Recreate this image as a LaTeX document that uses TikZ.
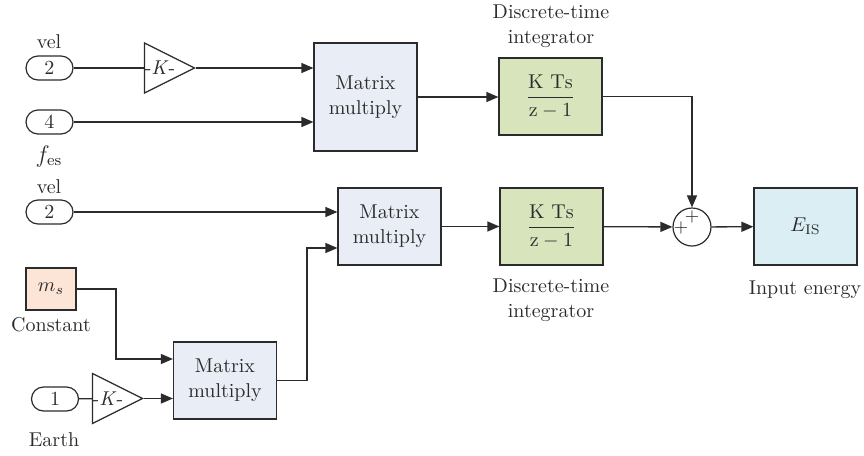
\documentclass[tikz,border=0pt]{standalone}
\usetikzlibrary{arrows.meta,positioning,shapes.geometric}
\definecolor{mmfill}{HTML}{E9EDF5}
\definecolor{dtifill}{HTML}{D8E4BC}
\definecolor{outfill}{HTML}{DBEEF4}
\definecolor{constfill}{HTML}{FCE4D6}
\definecolor{ink}{HTML}{2B2B2B}

\begin{document}
\begin{tikzpicture}[x=0.5pt, y=-0.5pt, font=\fontsize{10}{12.5}\selectfont,
  every node/.style={text=ink},
  wire/.style={draw=ink, line width=0.65pt, >={Triangle[length=6pt, width=5pt]}},
  port/.style={draw=ink, line width=0.6pt, rounded corners=6pt, minimum width=23.5pt, minimum height=12pt, inner sep=0pt},
  gain/.style={draw=ink, line width=0.6pt, isosceles triangle, isosceles triangle stretches, minimum width=25pt, minimum height=25pt, inner sep=0pt,
    label={[inner sep=0pt]center:-\textit{K}-}},
  mm/.style={draw=ink, line width=0.6pt, fill=mmfill, minimum width=51.5pt, align=center},
  dti/.style={draw=ink, line width=0.6pt, fill=dtifill, minimum width=51.5pt, minimum height=38.5pt},
  sumblock/.style={draw=ink, line width=0.6pt, circle, minimum size=19pt, inner sep=0pt}]
  \useasboundingbox (0,0) rectangle (864,456);

  % first row
  \node[port] (vel1) at (49.5,68) {2};
  \node (vel1lbl) at (49,42) {vel};
  \node[gain] (g1) at (160,68) {};
  \node[port] (fes) at (49.5,122) {4};
  \node[font=\fontsize{11.5}{13}\selectfont] (feslbl) at (49,156) {$f_{\mathrm{es}}$};
  \node[mm, minimum height=54pt] (mm1) at (365.5,97) {Matrix\\multiply};
  \node[dti] (dti1) at (550.5,96.5) {$\displaystyle\frac{\mathrm{K\ Ts}}{\mathrm{z}-1}$};
  \node[align=center] (dti1lbl) at (551,26) {Discrete-time\\integrator};

  % second row
  \node[port] (vel2) at (49.5,212) {2};
  \node (vel2lbl) at (49,187) {vel};
  \node[mm, minimum height=38.5pt] (mm2) at (389.5,226.5) {Matrix\\multiply};
  \node[dti] (dti2) at (551.5,226.5) {$\displaystyle\frac{\mathrm{K\ Ts}}{\mathrm{z}-1}$};
  \node[align=center] (dti2lbl) at (551,300) {Discrete-time\\integrator};
  \node[sumblock] (sum) at (692,227) {};
  \node[font=\small, inner sep=0pt] (plusL) at (681,228) {+};
  \node[font=\small, inner sep=0pt] (plusT) at (692,217) {+};
  \node[draw=ink, line width=0.6pt, fill=outfill, minimum width=51.5pt, minimum height=38.5pt] (eis) at (805.5,226.5) {$E_{\mathrm{IS}}$};
  \node (eislbl) at (805,290) {Input energy};

  % earth branch
  \node[draw=ink, line width=0.6pt, fill=constfill, minimum width=25pt, minimum height=21pt] (ms) at (51,289) {$m_s$};
  \node (mslbl) at (51,325) {Constant};
  \node[port] (earth) at (55,399) {1};
  \node (earthlbl) at (54,440) {Earth};
  \node[gain] (g3) at (108,398.5) {};
  \node[mm, minimum height=38.5pt] (mm3) at (225,380.5) {Matrix\\multiply};
  \coordinate (kneeA) at (116,359);
  \coordinate (kneeB) at (307,248);

  \draw[wire] (vel1) -- (g1);
  \draw[wire, ->] (g1) -- (g1 -| mm1.west);
  \draw[wire, ->] (fes) -- (fes -| mm1.west);
  \draw[wire, ->] (mm1.east) -- (mm1.east -| dti1.west);
  \draw[wire, ->] (dti1.east) -| (sum.north);
  \draw[wire, ->] (vel2) -- (vel2 -| mm2.west);
  \draw[wire, ->] (mm2) -- (dti2);
  \draw[wire, ->] (dti2) -- (sum);
  \draw[wire, ->] (sum) -- (eis);
  \draw[wire, ->] (ms) -| (kneeA) -- (kneeA -| mm3.west);
  \draw[wire] (earth) -- (g3);
  \draw[wire, ->] (g3) -- (g3 -| mm3.west);
  \draw[wire, ->] (mm3) -| (kneeB) -- (kneeB -| mm2.west);
\end{tikzpicture}
\end{document}
